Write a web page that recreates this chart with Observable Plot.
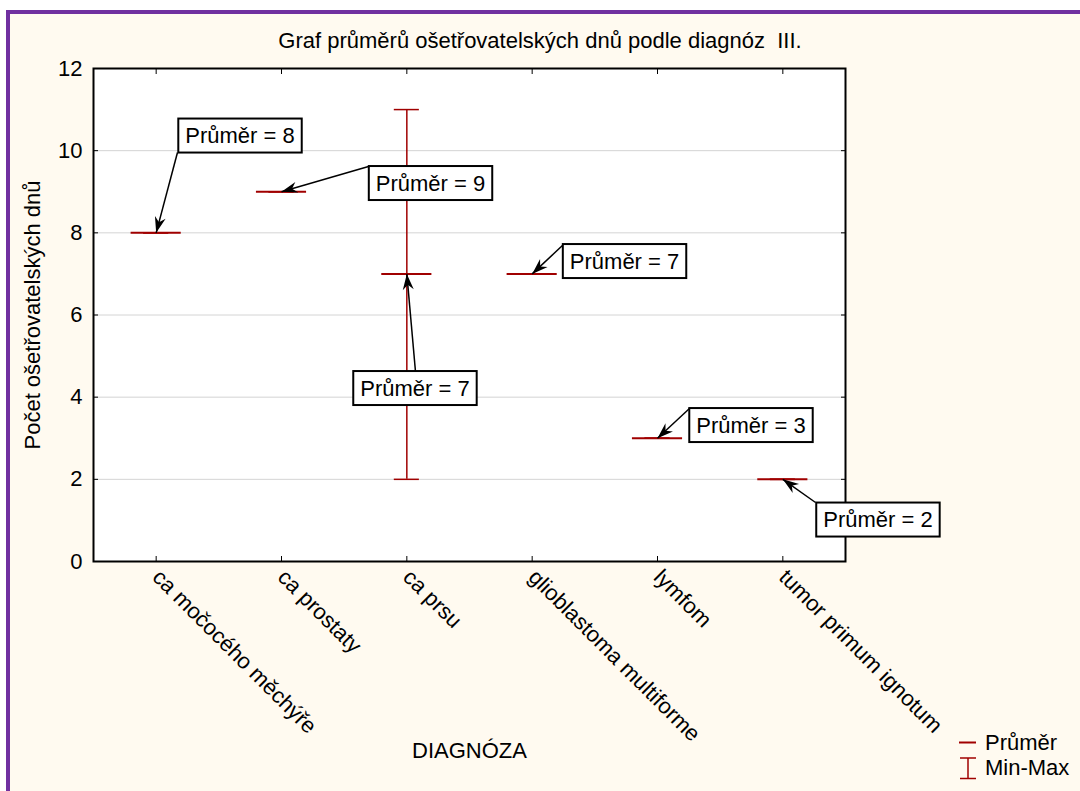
<!DOCTYPE html>
<html><head><meta charset="utf-8">
<script src="https://cdn.jsdelivr.net/npm/d3@7"></script>
<script src="https://cdn.jsdelivr.net/npm/@observablehq/plot@0.6"></script>
<style>
html,body{margin:0;padding:0;background:#fff;overflow:hidden;}
body{width:1080px;height:791px;position:relative;font-family:"Liberation Sans",Arial,sans-serif;}
#bg{position:absolute;left:6px;top:10px;width:1100px;height:800px;background:#FFFAF0;border-left:4px solid #7030A0;border-top:4px solid #7030A0;}
#chart{position:absolute;left:0;top:0;}
#title{position:absolute;left:0;width:1080px;top:30px;text-align:center;font-size:22px;line-height:22px;white-space:pre;color:#000;}
#legend{position:absolute;left:958px;top:730px;font-size:22px;color:#000;}
#legend .row{height:25px;line-height:25px;display:flex;align-items:center;}
#legend svg{width:27px;height:25px;flex:none;}
</style>
</head><body>
<div id="bg"></div>
<div id="chart"></div>
<div id="title">Graf průměrů ošetřovatelských dnů podle diagnóz  III.</div>
<div id="legend">
  <div class="row"><svg><line x1="1" x2="18" y1="12.5" y2="12.5" stroke="#a00000" stroke-width="2"/></svg><span>Průměr</span></div>
  <div class="row"><svg><line x1="10" x2="10" y1="3" y2="23.5" stroke="#a00000" stroke-width="1.5"/><line x1="2" x2="18" y1="3" y2="3" stroke="#a00000" stroke-width="1.5"/><line x1="2" x2="18" y1="23.5" y2="23.5" stroke="#a00000" stroke-width="1.5"/></svg><span>Min-Max</span></div>
</div>
<script>
// ---- data ----
const categories = ["ca močocého měchýře", "ca prostaty", "ca prsu", "glioblastoma multiforme", "lymfom", "tumor primum ignotum"];
const means = [8, 9, 7, 7, 3, 2];
const mins  = [8, 9, 2, 7, 3, 2];
const maxs  = [8, 9, 11, 7, 3, 2];
const yTicks = [0, 2, 4, 6, 8, 10, 12];
const gridTicks = [2, 4, 6, 8, 10];
// annotation boxes: which category, label centre and arrow tail (data coordinates)
const annCat = [0, 1, 2, 3, 4, 5];
const annLabelX = [0.669, 2.189, 2.065, 3.737, 4.746, 5.759];
const annLabelY = [10.357, 9.201, 4.211, 7.302, 3.310, 1.010];
const annTailX = [0.170, 1.694, 2.069, 3.250, 4.255, 5.261];
const annTailY = [9.956, 9.615, 4.625, 7.716, 3.724, 1.436];

const red = "#a00000";
const meanHalf = 0.2, capHalf = 0.1;

const rows = categories.map((c, i) => ({i, c, mean: means[i], min: mins[i], max: maxs[i]}));
const ann = annCat.map((ci, k) => ({i: ci, lx: annLabelX[k], ly: annLabelY[k], tx: annTailX[k], ty: annTailY[k], label: `Průměr = ${means[ci]}`}));
const idx = categories.map((c, i) => i);

const svg = Plot.plot({
  width: 1080,
  height: 791,
  marginLeft: 93,
  marginTop: 68,
  marginRight: 235,
  marginBottom: 230,
  style: {fontSize: "22px", fontFamily: "'Liberation Sans', Arial, sans-serif", background: "transparent", overflow: "visible"},
  x: {type: "linear", domain: [-0.5, 5.5]},
  y: {domain: [0, 12]},
  marks: [
    Plot.frame({fill: "white", stroke: null}),
    Plot.gridY(gridTicks, {stroke: "#d4d4d4", strokeOpacity: 1, strokeWidth: 1}),
    // error bars
    Plot.ruleX(rows, {x: "i", y1: "min", y2: "max", stroke: red, strokeWidth: 1.5}),
    Plot.ruleY(rows, {y: "max", x1: d => d.i - capHalf, x2: d => d.i + capHalf, stroke: red, strokeWidth: 1.5}),
    Plot.ruleY(rows, {y: "min", x1: d => d.i - capHalf, x2: d => d.i + capHalf, stroke: red, strokeWidth: 1.5}),
    // means
    Plot.ruleY(rows, {y: "mean", x1: d => d.i - meanHalf, x2: d => d.i + meanHalf, stroke: red, strokeWidth: 2}),
    // axes
    Plot.axisY(yTicks, {anchor: "left", tickSize: -5, tickPadding: 16, label: "Počet ošetřovatelských dnů", labelAnchor: "center", labelOffset: 69, labelArrow: "none"}),
    Plot.axisY(yTicks, {anchor: "right", tickSize: -5, tickFormat: () => "", label: null}),
    Plot.axisX(idx, {anchor: "bottom", tickSize: -5, tickPadding: 17, tickRotate: 45, tickFormat: i => categories[i], label: "DIAGNÓZA", labelAnchor: "center", labelOffset: 196, labelArrow: "none"}),
    Plot.axisX(idx, {anchor: "top", tickSize: -5, tickFormat: () => "", label: null}),
    Plot.frame({stroke: "black", strokeWidth: 2}),
    // annotations
    Plot.link(ann, {x1: "tx", y1: "ty", x2: "i", y2: d => means[d.i], stroke: "black", strokeWidth: 1.5}),
    Plot.text(ann, {x: "lx", y: "ly", text: "label", fill: "black"})
  ]
});
document.getElementById("chart").appendChild(svg);

// arrow heads and label boxes
const ns = "http://www.w3.org/2000/svg";
const defs = document.createElementNS(ns, "defs");
const marker = document.createElementNS(ns, "marker");
marker.setAttribute("id", "ah");
marker.setAttribute("markerUnits", "userSpaceOnUse");
marker.setAttribute("orient", "auto");
marker.setAttribute("viewBox", "-17 -8 18 16");
marker.setAttribute("markerWidth", "18");
marker.setAttribute("markerHeight", "16");
marker.setAttribute("refX", "0");
marker.setAttribute("refY", "0");
const mp = document.createElementNS(ns, "path");
mp.setAttribute("d", "M0,0L-16,-5.5L-11,0L-16,5.5Z");
mp.setAttribute("fill", "black");
marker.appendChild(mp);
defs.appendChild(marker);
svg.insertBefore(defs, svg.firstChild);
svg.querySelectorAll('g[aria-label="link"] path').forEach(p => p.setAttribute("marker-end", "url(#ah)"));
svg.querySelectorAll('g[aria-label="text"] text').forEach(t => {
  const bb = t.getBBox();
  const r = document.createElementNS(ns, "rect");
  r.setAttribute("x", bb.x - 7);
  r.setAttribute("y", bb.y - 4.5);
  r.setAttribute("width", bb.width + 14);
  r.setAttribute("height", bb.height + 9);
  r.setAttribute("fill", "white");
  r.setAttribute("stroke", "black");
  r.setAttribute("stroke-width", "2");
  if (t.getAttribute("transform")) r.setAttribute("transform", t.getAttribute("transform"));
  t.parentNode.insertBefore(r, t);
});
</script>
</body></html>
